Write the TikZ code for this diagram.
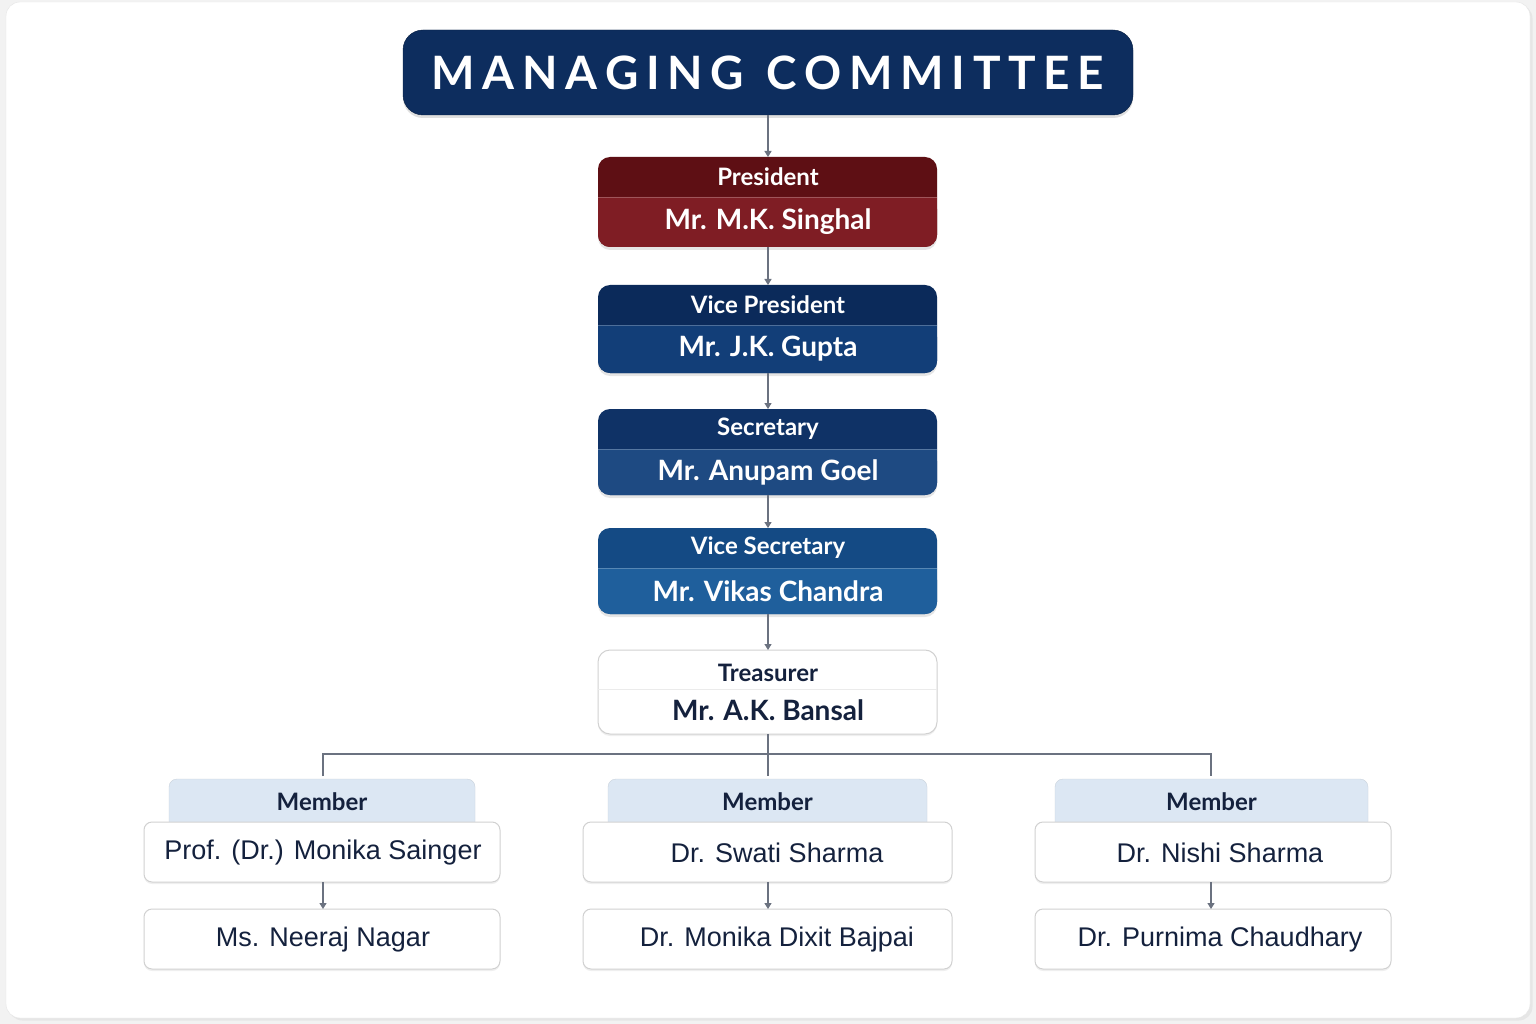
\documentclass[tikz,border=0pt]{standalone}
\usepackage{fontspec}
\setmainfont{Lato}
\newfontfamily\arialf{Liberation Sans}
\usetikzlibrary{arrows.meta,shadows}
\definecolor{navy}{HTML}{0D2D5E}
\definecolor{txtnavy}{HTML}{14213D}
\definecolor{linegray}{HTML}{6B7280}
\definecolor{tabblue}{HTML}{DCE7F3}
\definecolor{pA}{HTML}{5E0F14}\definecolor{pB}{HTML}{7F1D24}
\definecolor{vA}{HTML}{0B2A5A}\definecolor{vB}{HTML}{123E78}
\definecolor{sA}{HTML}{0F3266}\definecolor{sB}{HTML}{1E4A82}
\definecolor{wA}{HTML}{144A84}\definecolor{wB}{HTML}{1F5F9C}
\begin{document}
\begin{tikzpicture}[x=1pt,y=-1pt,
  conn/.style={draw=linegray,line width=1.3pt},
  arr/.style={conn,-{Triangle[length=6pt,width=7pt]}},
  role/.style={font=\bfseries\fontsize{24}{28}\selectfont,text=white},
  who/.style={font=\bfseries\fontsize{28}{32}\selectfont,text=white},
  namebox/.style={draw=black!18,fill=white,rounded corners=8pt,line width=1pt,drop shadow={opacity=0.12,shadow xshift=0pt,shadow yshift=-2pt}},
  nametxt/.style={font=\arialf\fontsize{27}{30}\selectfont,text=txtnavy},
  tab/.style={fill=tabblue,rounded corners=8pt,draw=tabblue!80!gray},
  tabtxt/.style={font=\bfseries\fontsize{24}{28}\selectfont,text=txtnavy}]
\fill[black!5] (0,0) rectangle (1536,1024);
\useasboundingbox (0,0) rectangle (1536,1024);
\filldraw[fill=white,draw=black!10,rounded corners=14pt,drop shadow={opacity=0.1}] (6,2) rectangle (1530,1018);
% title
\filldraw[fill=navy,draw=navy!70!black,rounded corners=20pt,drop shadow={opacity=0.25,shadow xshift=0pt,shadow yshift=-3pt}] (403,30) rectangle (1133,115);
\node[font=\bfseries\fontsize{46}{50}\selectfont,text=white] (title) at (768,73) {M\,A\,N\,A\,G\,I\,N\,G\ \ C\,O\,M\,M\,I\,T\,T\,E\,E};
\coordinate (titleb) at (768,115);
% colored boxes
\newcommand{\rolebox}[8]{%
  \fill[#5,rounded corners=12pt,drop shadow={opacity=0.2,shadow xshift=0pt,shadow yshift=-3pt}] (598,#2) rectangle (937,#4);
  \fill[#6,rounded corners=12pt] (598,#3) rectangle (937,#4);
  \fill[#6] (598,#3) rectangle (937,#3+14);
  \draw[white,opacity=0.25] (598,#3) -- (937,#3);
  \node[role] (#1r) at (768,{(#2+#3)/2}) {#7};
  \node[who] (#1n) at (768,{(#3+#4)/2}) {#8};
  \coordinate (#1t) at (768,#2);
  \coordinate (#1b) at (768,#4);}
\rolebox{p}{157}{197}{247}{pA}{pB}{President}{Mr. M.K. Singhal}
\rolebox{v}{285}{325}{373}{vA}{vB}{Vice President}{Mr. J.K. Gupta}
\rolebox{s}{409}{449}{495}{sA}{sB}{Secretary}{Mr. Anupam Goel}
\rolebox{vs}{528}{568}{614}{wA}{wB}{Vice Secretary}{Mr. Vikas Chandra}
% treasurer
\filldraw[namebox,rounded corners=12pt] (598,650) rectangle (937,734);
\draw[black!8] (598,689) -- (937,689);
\node[role,text=txtnavy] (tr) at (768,673) {Treasurer};
\node[who,text=txtnavy] (tn) at (768,710) {Mr. A.K. Bansal};
\coordinate (tt) at (768,650); \coordinate (tb) at (768,734);
\draw[arr] (titleb) -- (pt);
\draw[arr] (pb) -- (vt);
\draw[arr] (vb) -- (st);
\draw[arr] (sb) -- (vst);
\draw[arr] (vsb) -- (tt);
% members
\coordinate (bus) at (768,754);
\coordinate (busL) at (323,754); \coordinate (busR) at (1211,754);
\coordinate (mL) at (323,776); \coordinate (mM) at (768,776); \coordinate (mR) at (1211,776);
\draw[conn] (tb) -- (bus);
\draw[conn] (mL) -- (busL) -- (busR) -- (mR);
\draw[conn] (bus) -- (mM);
\newcommand{\member}[9]{%
  \filldraw[tab] (#2,779) rectangle (#3,830);
  \node[tabtxt] (#1tab) at ({(#2+#3)/2},802) {Member};
  \filldraw[namebox] (#4,822) rectangle (#5,882);
  \node[nametxt] (#1a) at (#6,853) {#8};
  \filldraw[namebox] (#4,909) rectangle (#5,969);
  \node[nametxt] (#1b) at (#6,940) {#9};
  \draw[arr] (#7,882) -- (#7,909);}
\member{l}{169}{475}{144}{500}{323}{323}{Prof. (Dr.) Monika Sainger}{Ms. Neeraj Nagar}
\member{m}{608}{927}{583}{952}{777}{768}{Dr. Swati Sharma}{Dr. Monika Dixit Bajpai}
\member{r}{1055}{1368}{1035}{1391}{1220}{1211}{Dr. Nishi Sharma}{Dr. Purnima Chaudhary}
\end{tikzpicture}
\end{document}
